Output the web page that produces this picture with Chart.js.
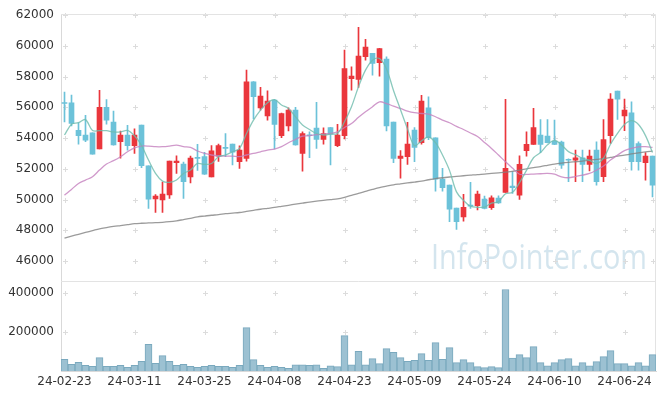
<!DOCTYPE html>
<html>
<head>
<meta charset="utf-8">
<script src="https://cdn.jsdelivr.net/npm/chart.js@4.4.1/dist/chart.umd.min.js"></script>
<style>
  html, body { margin: 0; padding: 0; background: #fff; }
  #chart { display: block; }
</style>
</head>
<body>
<canvas id="chart" width="665" height="399"></canvas>
<script>
// trading days (x axis categories)
const dates = [
  '24-02-23','24-02-26','24-02-27','24-02-28','24-02-29','24-03-04','24-03-05','24-03-06','24-03-07','24-03-08',
  '24-03-11','24-03-12','24-03-13','24-03-14','24-03-15','24-03-18','24-03-19','24-03-20','24-03-21','24-03-22',
  '24-03-25','24-03-26','24-03-27','24-03-28','24-03-29','24-04-01','24-04-02','24-04-03','24-04-04','24-04-05',
  '24-04-08','24-04-09','24-04-11','24-04-12','24-04-15','24-04-16','24-04-17','24-04-18','24-04-19','24-04-22',
  '24-04-23','24-04-24','24-04-25','24-04-26','24-04-29','24-04-30','24-05-02','24-05-03','24-05-07','24-05-08',
  '24-05-09','24-05-10','24-05-13','24-05-14','24-05-16','24-05-17','24-05-20','24-05-21','24-05-22','24-05-23',
  '24-05-24','24-05-27','24-05-28','24-05-29','24-05-30','24-05-31','24-06-03','24-06-04','24-06-05','24-06-07',
  '24-06-10','24-06-11','24-06-12','24-06-13','24-06-14','24-06-17','24-06-18','24-06-19','24-06-20','24-06-21',
  '24-06-24','24-06-25','24-06-26','24-06-27','24-06-28'
];

const opens = [
  56300, 56300, 54500, 54200, 54340, 53300, 56000, 55040, 53760, 54200,
  53500, 54840, 52200, 50050, 49970, 50310, 52400, 52310, 51480, 52700,
  52800, 51480, 52830, 53360, 53610, 52460, 52680, 57660, 55970, 55450,
  56470, 54150, 54800, 55820, 53000, 54170, 54650, 53910, 54690, 53500,
  54150, 57860, 57820, 59290, 59510, 58900, 59140, 55040, 52680, 52790,
  54520, 53700, 55970, 54020, 51330, 50940, 49450, 48880, 49620, 49600,
  50030, 49470, 50100, 50470, 50880, 50290, 53180, 53590, 54200, 54130,
  53800, 53740, 52620, 52570, 52720, 52290, 53220, 51490, 54150, 57060,
  55450, 55650, 53650, 52400, 52830
];
const highs = [
  57000, 56800, 55000, 55480, 54350, 57100, 56500, 55750, 54450, 54830,
  54600, 54850, 52200, 50330, 51140, 52500, 52850, 52440, 52830, 53590,
  53080, 53520, 53610, 54300, 53610, 53500, 58420, 57680, 57300, 57080,
  56500, 55620, 55970, 56000, 54400, 54410, 56320, 54670, 54700, 54890,
  59720, 58640, 61200, 60420, 59510, 59840, 59290, 55040, 53180, 55020,
  54690, 56780, 56690, 54020, 52030, 50940, 49450, 50340, 51120, 50550,
  50230, 50250, 50250, 56520, 51810, 52850, 54410, 55930, 55210, 55210,
  55170, 53800, 52650, 53220, 53220, 53220, 53760, 55210, 56900, 57060,
  56540, 56360, 53760, 53050, 52830
];
const lows = [
  55050, 54800, 53600, 53760, 52950, 53300, 54900, 53540, 52700, 53220,
  53000, 52070, 49430, 49160, 49160, 50080, 51700, 50080, 51090, 51900,
  51640, 51480, 52480, 52790, 52250, 52030, 52500, 55240, 55820, 55170,
  53290, 54020, 54460, 53540, 51850, 52720, 53330, 53610, 52250, 53440,
  53940, 57120, 57300, 59070, 58100, 58030, 54460, 52400, 51400, 52290,
  52460, 53610, 53900, 50550, 50550, 48560, 48060, 48600, 49430, 49320,
  49400, 49360, 49750, 50470, 50400, 50010, 52830, 53590, 53050, 53690,
  53580, 52030, 51160, 51160, 51160, 51870, 50940, 51160, 53650, 55210,
  54480, 51920, 51920, 51270, 50180
];
const closes = [
  56250, 54950, 54150, 53870, 52960, 56000, 55170, 53550, 54200, 53500,
  54200, 52200, 50030, 50230, 50350, 52500, 52500, 51160, 52700, 52680,
  51660, 53170, 53520, 53330, 53090, 53220, 57660, 56690, 56730, 56400,
  54890, 55600, 55820, 53550, 54300, 54150, 53910, 54300, 54260, 54200,
  58530, 58030, 59330, 59920, 58860, 59830, 54800, 52680, 52830, 53610,
  53390, 56400, 54020, 51330, 50770, 49380, 48560, 49490, 49570, 50360,
  49430, 50120, 49790, 52030, 50770, 52290, 53590, 54690, 53590, 53700,
  53590, 52240, 52560, 52720, 52290, 52830, 51160, 53910, 56540, 56540,
  55820, 52460, 52460, 52830, 50940
];

// moving averages
const ma5 = [
  54200, 54900, 55000, 55200, 54500, 54480, 54480, 54400, 54400, 54500,
  54150, 53520, 52570, 51700, 51200, 51120, 51270, 51700, 51920, 52350,
  52290, 52350, 52790, 52900, 53110, 53330, 54300, 55170, 55820, 56300,
  56500, 56150, 55930, 55390, 54850, 54560, 54300, 54200, 54260, 54300,
  55060, 56040, 57340, 58420, 59070, 59180, 58500, 57100, 55850, 54600,
  53500, 53820, 54070, 53700, 52900, 51900, 50500, 49950, 49570, 49500,
  49510, 49770, 49860, 50380, 50470, 51100, 51900, 52720, 53060, 53560,
  53850, 53550, 53120, 52920, 52680, 52550, 52350, 52700, 53600, 54300,
  54880, 55130, 54880, 54160, 53060
];
const ma20 = [
  50290, 50660, 51050, 51270, 51490, 51920, 52310, 52530, 52790, 53110,
  53370, 53480, 53480, 53440, 53440, 53480, 53540, 53440, 53390, 53160,
  53000, 52900, 52850, 52830, 52830, 52790, 52900, 53000, 53110, 53220,
  53290, 53440, 53700, 53910, 54130, 54150, 54220, 54260, 54300, 54410,
  54690, 54950, 55350, 55710, 56040, 56360, 56250, 56080, 55930, 55760,
  55650, 55600, 55560, 55390, 55170, 55000, 54760, 54560, 54330, 54100,
  53720, 53330, 52900, 52460, 52050, 51650, 51640, 51660, 51680, 51700,
  51650, 51480, 51420, 51500, 51590, 51700, 51920, 52180, 52570, 52890,
  53180, 53330, 53430, 53440, 53400
];
const ma60 = [
  47500, 47620, 47740, 47860, 47980, 48100, 48180, 48250, 48310, 48370,
  48430, 48460, 48480, 48500, 48520, 48560, 48620, 48700, 48780, 48880,
  48930, 48980, 49020, 49080, 49120, 49160, 49230, 49300, 49370, 49430,
  49490, 49560, 49630, 49700, 49770, 49840, 49900, 49950, 50000, 50050,
  50150, 50280, 50400, 50530, 50660, 50780, 50870, 50960, 51020, 51080,
  51140, 51200, 51290, 51370, 51420, 51470, 51510, 51550, 51590, 51630,
  51660, 51700, 51740, 51780, 51840, 51910, 52000, 52080, 52150, 52230,
  52310, 52370, 52420, 52460, 52500, 52560, 52610, 52660, 52740, 52820,
  52890, 52970, 53040, 53100, 53150
];

const volumes = [
  59500, 33800, 44000, 28700, 23600, 68200, 23600, 23600, 28700, 18500,
  28700, 49200, 136400, 39000, 78500, 49200, 28700, 33800, 23600, 18500,
  23600, 28700, 23600, 23600, 18500, 28700, 222000, 57900, 28700, 18500,
  23600, 18500, 13300, 32100, 32100, 28700, 32100, 13300, 27000, 22000,
  181000, 32100, 100500, 32100, 63000, 37400, 114300, 95400, 68200, 49200,
  54400, 88700, 54400, 145000, 59500, 119500, 42600, 57900, 42600, 22000,
  16900, 22000, 16900, 417000, 66300, 83400, 68200, 124600, 42600, 27000,
  42600, 57900, 63000, 27000, 42600, 27000, 47700, 73300, 104100, 37400,
  37400, 27000, 42600, 27000, 83400
];

const priceTicks = [46000, 48000, 50000, 52000, 54000, 56000, 58000, 60000, 62000];
const volumeTicks = [200000, 400000];

const UP = '#ea363c';
const DOWN = '#6cc2d9';
const candleColors = opens.map((o, i) => closes[i] > o ? UP : DOWN);

// small "+" marks at grid crossings, panel frame and the watermark
const chartDecor = {
  id: 'chartDecor',
  beforeDatasetsDraw(chart) {
    const { ctx, chartArea, scales } = chart;
    const x = scales.x, y = scales.y, y2 = scales.y2;
    ctx.save();

    // watermark
    ctx.font = '34px "Open Sans"';
    ctx.fillStyle = 'rgba(186, 213, 228, 0.62)';
    ctx.textBaseline = 'alphabetic';
    const text = 'InfoPointer.com';
    const w = ctx.measureText(text).width;
    ctx.translate(431, 269);
    ctx.scale(216 / w, 1);
    ctx.fillText(text, 0, 0);
    ctx.setTransform(1, 0, 0, 1, 0, 0);

    const cols = [];
    dates.forEach((d, i) => { if (i % 10 === 0) cols.push(x.getPixelForValue(i)); });
    const plus = (px, py) => {
      px = Math.round(px) + 0.5; py = Math.round(py) + 0.5;
      ctx.moveTo(px - 2.5, py); ctx.lineTo(px + 2.5, py);
      ctx.moveTo(px, py - 2.5); ctx.lineTo(px, py + 2.5);
    };
    ctx.strokeStyle = '#dcdcdc';
    ctx.lineWidth = 1;
    ctx.beginPath();
    const priceCols = cols.concat([x.getPixelForValue(dates.length - 1)]);
    priceTicks.forEach(v => priceCols.forEach(px => plus(px, y.getPixelForValue(v))));
    volumeTicks.forEach(v => cols.forEach(px => plus(px, y2.getPixelForValue(v))));
    ctx.stroke();

    // frame: top, right, panel separator
    ctx.strokeStyle = '#e3e3e3';
    ctx.beginPath();
    const t = Math.round(chartArea.top) + 0.5;
    const r = Math.round(chartArea.right) - 0.5;
    const sep = Math.round(y.bottom) + 0.5;
    ctx.moveTo(chartArea.left, t); ctx.lineTo(r, t);
    ctx.moveTo(r, t); ctx.lineTo(r, chartArea.bottom);
    ctx.moveTo(chartArea.left, sep); ctx.lineTo(r, sep);
    ctx.stroke();
    ctx.restore();
  }
};

const tickFont = { family: '"DejaVu Sans"', size: 12 };

new Chart(document.getElementById('chart'), {
  data: {
    labels: dates,
    datasets: [
      {
        type: 'line', label: 'MA5', data: ma5, yAxisID: 'y',
        borderColor: 'rgba(110, 188, 172, 0.8)', borderWidth: 1.3,
        pointRadius: 0, tension: 0.35, order: 0
      },
      {
        type: 'line', label: 'MA20', data: ma20, yAxisID: 'y',
        borderColor: 'rgba(196, 128, 190, 0.8)', borderWidth: 1.3,
        pointRadius: 0, tension: 0.35, order: 0
      },
      {
        type: 'line', label: 'MA60', data: ma60, yAxisID: 'y',
        borderColor: 'rgba(130, 130, 130, 0.8)', borderWidth: 1.3,
        pointRadius: 0, tension: 0.35, order: 0
      },
      {
        type: 'bar', label: 'wick', yAxisID: 'y',
        data: lows.map((l, i) => [l, highs[i]]),
        backgroundColor: candleColors, barThickness: 1,
        grouped: false, order: 2
      },
      {
        type: 'bar', label: 'body', yAxisID: 'y',
        data: opens.map((o, i) => [o, closes[i]]),
        backgroundColor: candleColors, barThickness: 5, minBarLength: 1,
        grouped: false, order: 1
      },
      {
        type: 'bar', label: 'volume', yAxisID: 'y2', data: volumes,
        backgroundColor: '#9cc1d2', borderColor: '#7aa9be', borderWidth: 1,
        barPercentage: 1, categoryPercentage: 1, grouped: false, order: 3
      }
    ]
  },
  options: {
    responsive: false,
    animation: false,
    devicePixelRatio: 1,
    layout: { padding: { top: 14, right: 9, left: 0, bottom: 0 } },
    plugins: { legend: { display: false }, tooltip: { enabled: false } },
    scales: {
      x: {
        type: 'category', offset: true,
        grid: { display: false, drawTicks: false },
        border: { color: '#d9d9d9' },
        ticks: {
          autoSkip: false, maxRotation: 0, padding: 4, color: '#333', font: tickFont,
          callback: (v, i) => i % 10 === 0 ? dates[i] : ''
        },
        afterFit: s => { s.height = 28; }
      },
      y: {
        stack: 'panes', stackWeight: 267, weight: 1, position: 'left',
        min: 44700, max: 62060,
        grid: { display: false, drawTicks: false },
        border: { color: '#d9d9d9' },
        ticks: { padding: 7, color: '#333', font: tickFont, callback: v => String(v) },
        afterBuildTicks: s => { s.ticks = priceTicks.map(v => ({ value: v })); },
        afterFit: s => { s.width = 61; }
      },
      y2: {
        stack: 'panes', stackWeight: 90, weight: 0, position: 'left',
        min: 0, max: 460000,
        grid: { display: false, drawTicks: false },
        border: { color: '#d9d9d9' },
        ticks: { padding: 7, color: '#333', font: tickFont, callback: v => String(v) },
        afterBuildTicks: s => { s.ticks = volumeTicks.map(v => ({ value: v })); },
        afterFit: s => { s.width = 61; }
      }
    }
  },
  plugins: [chartDecor]
});
</script>
</body>
</html>
